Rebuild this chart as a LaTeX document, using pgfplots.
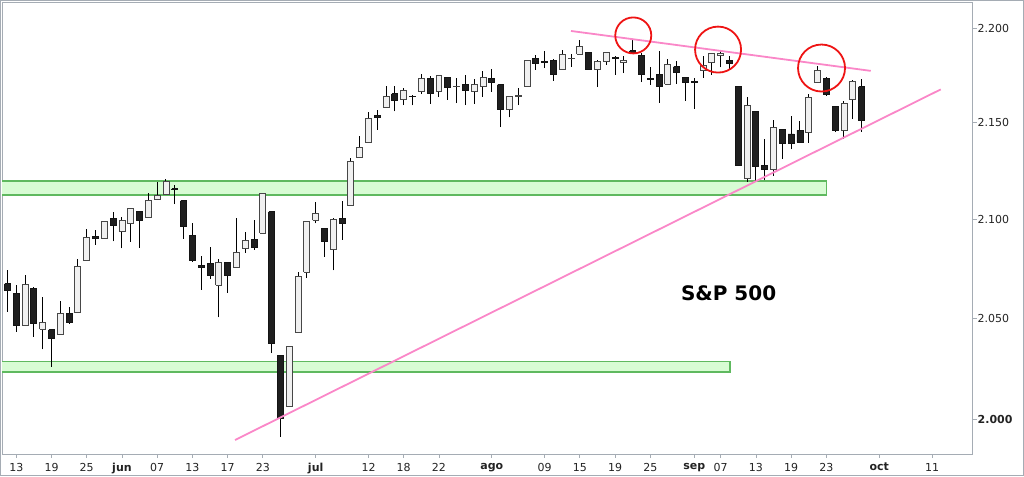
\documentclass[border=0pt]{standalone}
\usepackage{fontspec}
\setmainfont{DejaVu Sans}
\usepackage{pgfplots}
\usepackage{pgfplotstable}
\pgfplotsset{compat=1.18}
\definecolor{framegray}{RGB}{165,172,180}
\definecolor{pinkline}{RGB}{250,135,200}
\definecolor{bandfill}{RGB}{216,252,212}
\definecolor{bandedge}{RGB}{95,185,95}
\definecolor{labelgray}{RGB}{35,35,35}
\definecolor{circred}{RGB}{238,20,20}

\pgfplotstableread{
i o h l c
-1 2067.17 2073.99 2053.13 2064.11
0 2062.50 2066.79 2043.13 2046.61
1 2046.53 2071.88 2046.53 2066.66
2 2065.04 2065.69 2040.82 2047.21
3 2044.38 2060.61 2034.49 2047.63
4 2044.21 2044.21 2025.91 2040.04
5 2041.88 2058.35 2041.88 2052.32
6 2052.23 2055.58 2047.26 2048.04
7 2052.65 2079.67 2052.65 2076.06
8 2078.93 2094.73 2078.93 2090.54
9 2091.44 2094.30 2087.08 2090.10
10 2090.06 2099.06 2090.06 2099.06
11 2100.13 2103.48 2088.66 2096.95
12 2093.94 2100.97 2085.10 2099.33
13 2097.71 2105.26 2088.59 2105.26
14 2104.07 2104.07 2085.36 2099.13
15 2100.83 2113.36 2100.83 2109.41
16 2110.18 2119.22 2110.18 2112.13
17 2112.71 2120.55 2112.71 2119.12
18 2115.65 2117.64 2107.73 2115.48
19 2109.57 2109.57 2089.96 2096.07
20 2091.75 2098.12 2078.46 2079.06
21 2076.65 2081.30 2064.10 2075.32
22 2077.60 2085.65 2069.80 2071.50
23 2066.36 2079.62 2050.37 2077.99
24 2078.20 2078.20 2062.84 2071.22
25 2075.58 2100.66 2075.58 2083.25
26 2085.19 2093.66 2083.02 2088.90
27 2089.75 2099.71 2084.36 2085.45
28 2092.80 2113.32 2092.80 2113.32
29 2103.81 2103.81 2032.57 2037.41
30 2031.45 2031.45 1991.68 2000.54
31 2006.67 2036.09 2006.67 2036.09
32 2042.69 2073.13 2042.69 2070.77
33 2073.17 2098.94 2070.00 2098.86
34 2099.34 2108.71 2097.90 2102.95
35 2095.05 2095.05 2080.86 2088.55
36 2084.43 2100.72 2074.02 2099.73
37 2100.42 2109.08 2089.39 2097.90
38 2106.97 2131.71 2106.97 2129.90
39 2131.72 2143.16 2131.72 2137.16
40 2139.50 2155.40 2139.50 2152.14
41 2153.81 2156.45 2146.21 2152.43
42 2157.88 2169.05 2157.88 2163.75
43 2165.13 2169.05 2155.79 2161.74
44 2162.04 2168.35 2159.07 2166.89
45 2163.79 2164.63 2159.01 2163.78
46 2166.10 2175.63 2164.89 2173.02
47 2172.91 2174.56 2159.75 2165.17
48 2166.47 2175.11 2163.24 2175.03
49 2173.71 2173.71 2161.95 2168.48
50 2168.97 2173.54 2160.18 2169.18
51 2169.81 2174.98 2159.07 2166.58
52 2166.05 2172.85 2159.74 2170.06
53 2168.83 2177.09 2163.49 2173.60
54 2173.15 2178.29 2166.21 2170.84
55 2169.94 2170.20 2147.58 2157.03
56 2156.81 2163.79 2152.70 2163.79
57 2163.51 2168.19 2159.07 2164.25
58 2168.79 2182.87 2168.79 2182.87
59 2183.76 2185.44 2177.85 2180.89
60 2182.24 2187.66 2178.61 2181.74
61 2182.81 2183.41 2172.00 2175.49
62 2177.97 2188.45 2177.97 2185.79
63 2183.74 2186.28 2179.42 2184.05
64 2186.08 2193.81 2186.08 2190.15
65 2187.02 2187.02 2178.15 2178.15
66 2177.84 2183.08 2168.50 2182.22
67 2181.90 2187.03 2180.46 2187.02
68 2184.24 2185.00 2175.13 2183.87
69 2181.58 2185.15 2175.96 2182.64
70 2187.81 2193.42 2186.80 2186.90
71 2185.09 2186.66 2171.25 2175.44
72 2173.29 2179.00 2169.74 2172.47
73 2175.10 2187.94 2160.39 2169.04
74 2170.19 2183.48 2170.19 2180.38
75 2179.45 2182.27 2170.41 2176.12
76 2173.56 2173.79 2161.35 2170.95
77 2171.33 2173.56 2157.09 2170.86
78 2177.49 2184.87 2173.59 2179.98
79 2181.61 2186.57 2175.10 2186.48
80 2185.17 2187.87 2179.07 2186.16
81 2182.76 2184.94 2177.49 2181.30
82 2169.08 2169.08 2127.81 2127.81
83 2120.86 2163.30 2119.12 2159.04
84 2155.81 2155.81 2119.12 2127.02
85 2127.86 2141.33 2119.90 2125.77
86 2125.36 2151.31 2122.36 2147.26
87 2146.48 2146.48 2131.20 2139.16
88 2143.99 2153.61 2135.91 2139.12
89 2145.94 2150.80 2139.17 2139.76
90 2144.58 2165.11 2139.57 2163.12
91 2170.94 2179.99 2170.94 2177.18
92 2173.29 2173.75 2163.97 2164.69
93 2158.54 2158.54 2145.04 2146.10
94 2146.04 2161.13 2141.55 2159.93
95 2161.85 2172.40 2151.79 2171.37
96 2168.90 2172.67 2145.20 2151.13
}\candles

\pgfplotsset{
  wick/.style={black, line width=1pt, forget plot},
  candleup/.style={draw=black!72, fill=white!94!black, line width=0.9pt, forget plot},
  candledown/.style={draw=black!92, fill=black!88, line width=0.9pt, forget plot},
}

\begin{document}
\begin{tikzpicture}
\useasboundingbox (-2pt,-22pt) rectangle (1022pt,454pt);
\draw[framegray, line width=1pt] (-1.5pt,-21.5pt) rectangle (1021.5pt,453.5pt);
\begin{axis}[
  at={(0pt,0pt)}, anchor=south west,
  scale only axis, width=970.7pt, height=451.3pt,
  % logarithmic price scale, done as a coordinate transformation
  y coord trafo/.code={\pgfmathparse{ln(#1/2000)*1000}},
  y coord inv trafo/.code={\pgfmathparse{2000*exp(#1/1000)}},
  xmin=-1.624, xmax=108.62,
  ymin=1983.4, ymax=2213.6,
  axis line style={framegray, line width=1pt},
  every tick/.style={framegray, line width=0.8pt},
  tick align=outside, major tick length=4pt,
  xtick pos=left, ytick pos=right, yticklabel pos=right,
  ytick={2000,2050,2100,2150,2200},
  yticklabels={\textbf{2.000},2.050,2.100,2.150,2.200},
  xtick={0,4,8,12,16,20,24,28,34,40,44,48,54,60,64,68,72,77,80,84,88,92,98,104},
  xticklabels={13,19,25,\textbf{jun},07,13,17,23,\textbf{jul},12,18,22,\textbf{ago},09,15,19,25,\textbf{sep},07,13,19,23,\textbf{oct},11},
  tick label style={font=\fontsize{11}{13}\selectfont, text=labelgray},
  yticklabel style={xshift=-2.5pt},
  xticklabel style={yshift=-1.5pt},
  minor tick num=0,
]
% support / resistance bands
\addplot[fill=bandfill, draw=bandedge, line width=1.4pt, forget plot]
  coordinates {(-1.7,2112.4) (92.0,2112.4) (92.0,2119.6) (-1.7,2119.6) (-1.7,2112.4)};
\addplot[fill=bandfill, draw=bandedge, line width=1.4pt, forget plot]
  coordinates {(-1.7,2023.2) (81.06,2023.2) (81.06,2028.4) (-1.7,2028.4) (-1.7,2023.2)};

% candles
\pgfplotstablegetrowsof{\candles}
\pgfmathtruncatemacro{\lastrow}{\pgfplotsretval-1}
\pgfplotsforeachungrouped \r in {0,...,\lastrow}{%
  \pgfplotstablegetelem{\r}{i}\of\candles \let\ci\pgfplotsretval
  \pgfplotstablegetelem{\r}{o}\of\candles \let\co\pgfplotsretval
  \pgfplotstablegetelem{\r}{h}\of\candles \let\ch\pgfplotsretval
  \pgfplotstablegetelem{\r}{l}\of\candles \let\cl\pgfplotsretval
  \pgfplotstablegetelem{\r}{c}\of\candles \let\cc\pgfplotsretval
  \pgfmathsetmacro{\xl}{\ci-0.34}%
  \pgfmathsetmacro{\xr}{\ci+0.34}%
  \ifdim\cc pt<\co pt \def\cstyle{candledown}\else\def\cstyle{candleup}\fi
  \edef\doplot{%
    \noexpand\addplot[wick] coordinates {(\ci,\cl) (\ci,\ch)};%
    \noexpand\addplot[\cstyle] coordinates {(\xl,\co) (\xr,\co) (\xr,\cc) (\xl,\cc) (\xl,\co)};%
  }%
  \doplot
}

% trend lines
\addplot[pinkline, line width=1.8pt, forget plot] coordinates {(24.84,1990.1) (104.99,2167.4)};
\addplot[pinkline, line width=1.8pt, forget plot] coordinates {(63.0,2198.4) (97.04,2177.2)};

% circles
\draw[circred, line width=1.8pt] (axis cs:70.07,2196.0) circle[radius=18pt];
\draw[circred, line width=1.8pt] (axis cs:79.7,2188.5) circle[radius=23pt];
\draw[circred, line width=1.8pt] (axis cs:91.45,2178.7) circle[radius=23.5pt];

\node[font=\fontsize{20}{24}\selectfont\bfseries, text=black] at (axis cs:80.9,2062.3) {S\&P 500};
\end{axis}
\end{tikzpicture}
\end{document}
